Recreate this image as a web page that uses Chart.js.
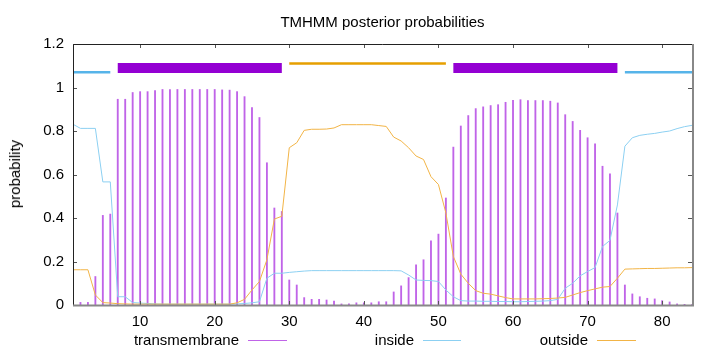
<!DOCTYPE html>
<html>
<head>
<meta charset="utf-8">
<script src="https://cdn.jsdelivr.net/npm/chart.js@4.4.0/dist/chart.umd.min.js"></script>
<style>
  html, body { margin: 0; padding: 0; background: #fff; }
  #wrap { position: relative; width: 720px; height: 352px; font-family: "Liberation Sans", Arial, sans-serif; color: #000; }
  #c { position: absolute; left: 0; top: 0; }
  .txt { position: absolute; font-size: 15px; line-height: 18px; white-space: nowrap; }
  #title { left: 73px; width: 619px; top: 13px; text-align: center; }
  #ylab { left: 15px; top: 174px; transform: translate(-50%, -50%) rotate(-90deg); }
  .legtxt { top: 331px; text-align: right; width: 140px; }
  .legline { position: absolute; height: 1px; top: 340px; }
</style>
</head>
<body>
<div id="wrap">
  <canvas id="c" width="720" height="352"></canvas>
  <div id="title" class="txt">TMHMM posterior probabilities</div>
  <div id="ylab" class="txt">probability</div>
  <div class="txt legtxt" style="left:99px">transmembrane</div>
  <div class="legline" style="left:248px;width:39px;background:rgb(192,100,232)"></div>
  <div class="txt legtxt" style="left:274px">inside</div>
  <div class="legline" style="left:423px;width:38px;background:rgb(140,208,242)"></div>
  <div class="txt legtxt" style="left:448px">outside</div>
  <div class="legline" style="left:597px;width:39px;background:rgb(242,180,70)"></div>
</div>
<script>
const positions = [1,2,3,4,5,6,7,8,9,10,11,12,13,14,15,16,17,18,19,20,21,22,23,24,25,26,27,28,29,30,31,32,33,34,35,36,37,38,39,40,41,42,43,44,45,46,47,48,49,50,51,52,53,54,55,56,57,58,59,60,61,62,63,64,65,66,67,68,69,70,71,72,73,74,75,76,77,78,79,80,81,82,83,84];

const transmembrane = [0.010,0.012,0.012,0.131,0.412,0.418,0.946,0.946,0.977,0.981,
  0.981,0.986,0.991,0.991,0.991,0.991,0.991,0.991,0.991,0.991,
  0.989,0.988,0.981,0.958,0.908,0.862,0.654,0.446,0.430,0.115,
  0.092,0.034,0.026,0.026,0.023,0.018,0.005,0.005,0.010,0.010,
  0.010,0.015,0.015,0.060,0.088,0.126,0.185,0.208,0.295,0.326,
  0.492,0.726,0.823,0.871,0.903,0.911,0.917,0.921,0.932,0.941,
  0.944,0.940,0.940,0.940,0.937,0.929,0.875,0.844,0.803,0.769,
  0.741,0.638,0.603,0.423,0.092,0.051,0.038,0.031,0.028,0.020,
  0.014,0.005,0.003,0.002];

const inside = [0.831,0.812,0.812,0.812,0.566,0.566,0.038,0.038,0.011,0.009,
  0.007,0.005,0.004,0.004,0.004,0.004,0.004,0.004,0.004,0.004,
  0.004,0.004,0.005,0.007,0.010,0.015,0.123,0.146,0.146,0.150,
  0.153,0.156,0.158,0.158,0.158,0.158,0.158,0.158,0.158,0.158,
  0.158,0.158,0.158,0.158,0.157,0.138,0.115,0.113,0.112,0.108,
  0.069,0.038,0.020,0.018,0.018,0.017,0.017,0.016,0.016,0.015,
  0.015,0.016,0.017,0.018,0.020,0.026,0.077,0.100,0.134,0.154,
  0.172,0.269,0.297,0.460,0.730,0.769,0.780,0.785,0.789,0.795,
  0.800,0.811,0.820,0.826];

const outside = [0.162,0.162,0.162,0.046,0.011,0.009,0.006,0.005,0.004,0.004,
  0.004,0.004,0.004,0.004,0.004,0.004,0.004,0.004,0.004,0.004,
  0.004,0.004,0.010,0.026,0.069,0.108,0.208,0.395,0.408,0.723,
  0.746,0.803,0.808,0.808,0.809,0.814,0.829,0.829,0.829,0.829,
  0.829,0.825,0.821,0.772,0.754,0.723,0.685,0.669,0.590,0.554,
  0.423,0.223,0.142,0.100,0.066,0.054,0.050,0.042,0.034,0.028,
  0.028,0.028,0.028,0.029,0.030,0.032,0.035,0.046,0.057,0.066,
  0.074,0.082,0.085,0.123,0.165,0.166,0.167,0.168,0.168,0.169,
  0.170,0.171,0.171,0.172];

// predicted topology segments
const segStart = [1, 7, 30, 52, 75];
const segEnd   = [6, 29, 51, 74, 84];
const segType  = ['inside', 'TMhelix', 'outside', 'TMhelix', 'inside'];
const segLevel = { inside: 1.07, TMhelix: 1.09, outside: 1.11 };

const xTicks = [10, 20, 30, 40, 50, 60, 70, 80];
const yTicks = [0, 0.2, 0.4, 0.6, 0.8, 1, 1.2];

const segStyle = {
  inside:  { color: 'rgb(86,180,233)', width: 2.5 },
  TMhelix: { color: 'rgb(148,0,211)',  width: 10 },
  outside: { color: 'rgb(230,159,0)',  width: 2.5 }
};

const segDatasets = segStart.map((s, i) => ({
  type: 'line',
  label: segType[i],
  data: [{x: s, y: segLevel[segType[i]]}, {x: segEnd[i], y: segLevel[segType[i]]}],
  borderColor: segStyle[segType[i]].color,
  borderWidth: segStyle[segType[i]].width,
  borderCapStyle: 'butt',
  pointRadius: 0,
  tension: 0
}));

Chart.defaults.font.family = '"Liberation Sans", Arial, sans-serif';
Chart.defaults.font.size = 15;
Chart.defaults.color = '#000';

const framePlugin = {
  id: 'frame',
  afterDatasetsDraw(chart) {
    const {ctx, chartArea: {left, right, top, bottom}, scales: {x, y}} = chart;
    ctx.save();
    ctx.lineWidth = 1;
    ctx.strokeStyle = '#555';
    ctx.beginPath();
    xTicks.forEach(v => {
      const px = Math.round(x.getPixelForValue(v)) + 0.5;
      ctx.moveTo(px, bottom); ctx.lineTo(px, bottom - 4);
      ctx.moveTo(px, top); ctx.lineTo(px, top + 4);
    });
    yTicks.forEach(v => {
      const py = Math.round(y.getPixelForValue(v)) + 0.5;
      ctx.moveTo(left, py); ctx.lineTo(left + 4, py);
      ctx.moveTo(right, py); ctx.lineTo(right - 4, py);
    });
    ctx.stroke();
    ctx.strokeStyle = '#222';
    ctx.beginPath();
    ctx.moveTo(left + 0.5, bottom); ctx.lineTo(left + 0.5, top + 0.5); ctx.lineTo(right, top + 0.5);
    ctx.stroke();
    ctx.strokeStyle = '#888';
    ctx.lineWidth = 2;
    ctx.beginPath();
    ctx.moveTo(left, bottom + 0.5); ctx.lineTo(right + 1, bottom + 0.5); ctx.lineTo(right + 1, top);
    ctx.stroke();
    ctx.restore();
  }
};

new Chart(document.getElementById('c'), {
  type: 'line',
  data: {
    datasets: [
      ...segDatasets,
      {
        type: 'line', label: 'outside',
        data: positions.map((p, i) => ({x: p, y: outside[i]})),
        borderColor: 'rgb(242,180,70)', borderWidth: 1, pointRadius: 0, tension: 0
      },
      {
        type: 'line', label: 'inside',
        data: positions.map((p, i) => ({x: p, y: inside[i]})),
        borderColor: 'rgb(140,208,242)', borderWidth: 1, pointRadius: 0, tension: 0
      },
      {
        type: 'bar', label: 'transmembrane',
        data: positions.map((p, i) => ({x: p, y: transmembrane[i]})),
        backgroundColor: 'rgb(192,100,232)', borderWidth: 0,
        barThickness: 1.2
      }
    ]
  },
  options: {
    responsive: false,
    animation: false,
    events: [],
    layout: { padding: { left: 0, right: 28, top: 44, bottom: 0 } },
    plugins: { legend: { display: false }, title: { display: false }, tooltip: { enabled: false } },
    scales: {
      x: {
        type: 'linear', min: 1, max: 84, offset: false,
        grid: { display: false, drawTicks: false },
        border: { display: false },
        ticks: { padding: 8, maxRotation: 0, autoSkip: false, font: { size: 15 } },
        afterBuildTicks: s => { s.ticks = xTicks.map(v => ({ value: v })); },
        afterFit: s => { s.height = 47; }
      },
      y: {
        type: 'linear', min: 0, max: 1.2,
        grid: { display: false, drawTicks: false },
        border: { display: false },
        ticks: {
          padding: 9, font: { size: 15 },
          callback: v => String(Math.round(v * 10) / 10)
        },
        afterBuildTicks: s => { s.ticks = yTicks.map(v => ({ value: v })); },
        afterFit: s => { s.width = 73; }
      }
    }
  },
  plugins: [framePlugin]
});
</script>
</body>
</html>
